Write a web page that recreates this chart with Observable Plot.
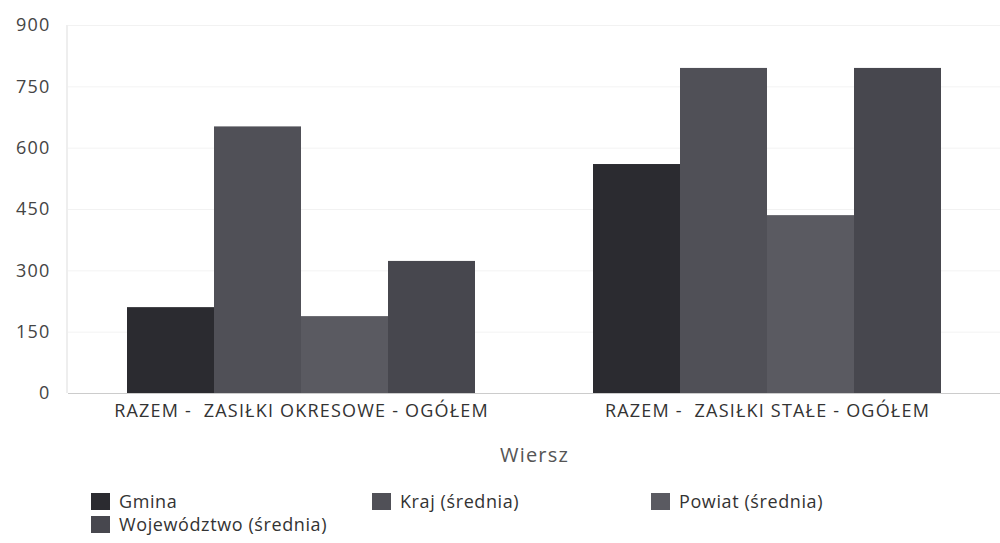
<!DOCTYPE html>
<html>
<head>
<meta charset="utf-8">
<script src="https://cdn.jsdelivr.net/npm/d3@7"></script>
<script src="https://cdn.jsdelivr.net/npm/@observablehq/plot@0.6"></script>
<style>
  html, body { margin: 0; padding: 0; background: #fff; }
  body { width: 1000px; height: 543px; overflow: hidden; font-family: "Open Sans", sans-serif; }
  svg text { letter-spacing: 1.2px; white-space: pre; }
  #legend { display: grid; grid-template-columns: 281px 279px 280px; margin-left: 91px; margin-top: 10px; row-gap: 1px; }
  .item { display: flex; align-items: center; font-size: 18px; letter-spacing: 0.6px; color: #333; line-height: 22px; }
  .sw { width: 19px; height: 17px; margin-right: 9px; flex: none; }
</style>
</head>
<body>
<div id="chart"></div>
<div id="legend"></div>
<script>
const groups = ["RAZEM -  ZASIŁKI OKRESOWE - OGÓŁEM", "RAZEM -  ZASIŁKI STAŁE - OGÓŁEM"];
const series = ["Gmina", "Kraj (średnia)", "Powiat (średnia)", "Województwo (średnia)"];
const gminaValues = [210, 560];
const krajValues = [652, 795];
const powiatValues = [188, 435];
const wojewodztwoValues = [323, 795];
const yTicks = [0, 150, 300, 450, 600, 750, 900];
const colors = ["#2b2b30", "#505057", "#5a5a61", "#47474e"];
const xTitle = "Wiersz";

const valuesBySeries = [gminaValues, krajValues, powiatValues, wojewodztwoValues];
const data = [];
groups.forEach((g, gi) => series.forEach((s, si) => data.push({group: g, series: s, value: valuesBySeries[si][gi]})));

const plot = Plot.plot({
  width: 1000,
  height: 480,
  marginLeft: 67,
  marginRight: 0,
  marginTop: 25,
  marginBottom: 87,
  style: {fontFamily: "'Open Sans', sans-serif", fontSize: "18px", color: "#333", background: "white"},
  fx: {domain: groups, paddingInner: 0, paddingOuter: 0},
  x: {domain: series, paddingInner: 0, paddingOuter: 0.66, axis: null},
  y: {domain: [0, 900], ticks: yTicks},
  color: {domain: series, range: colors},
  marks: [
    Plot.gridY(yTicks, {stroke: "#000", strokeOpacity: 0.05}),
    Plot.ruleY([0], {stroke: "#ccc"}),
    Plot.barY(data, {fx: "group", x: "series", y: "value", fill: "series"}),
    Plot.axisY(yTicks, {tickSize: 0, tickPadding: 18, label: null, fontSize: 18, fill: "#444"}),
    Plot.axisFx({anchor: "bottom", tickSize: 0, tickPadding: 11, fontSize: 18, fill: "#333",
      label: xTitle, labelAnchor: "center", labelArrow: "none", labelOffset: 68})
  ]
});

// faint left axis line along the frame edge, positioned through the plot's y scale
const ys = plot.scale("y");
d3.select(plot).append("line")
  .attr("x1", 67).attr("x2", 67)
  .attr("y1", ys.apply(900)).attr("y2", ys.apply(0))
  .attr("stroke", "#ddd");
// larger axis title
d3.select(plot).selectAll("text").filter(function() { return this.textContent === xTitle; })
  .attr("font-size", 20).attr("fill", "#555");

document.getElementById("chart").appendChild(plot);

const legend = document.getElementById("legend");
series.forEach((s, i) => {
  const el = document.createElement("div");
  el.className = "item";
  el.innerHTML = `<span class="sw" style="background:${colors[i]}"></span><span>${s}</span>`;
  legend.appendChild(el);
});
</script>
</body>
</html>
